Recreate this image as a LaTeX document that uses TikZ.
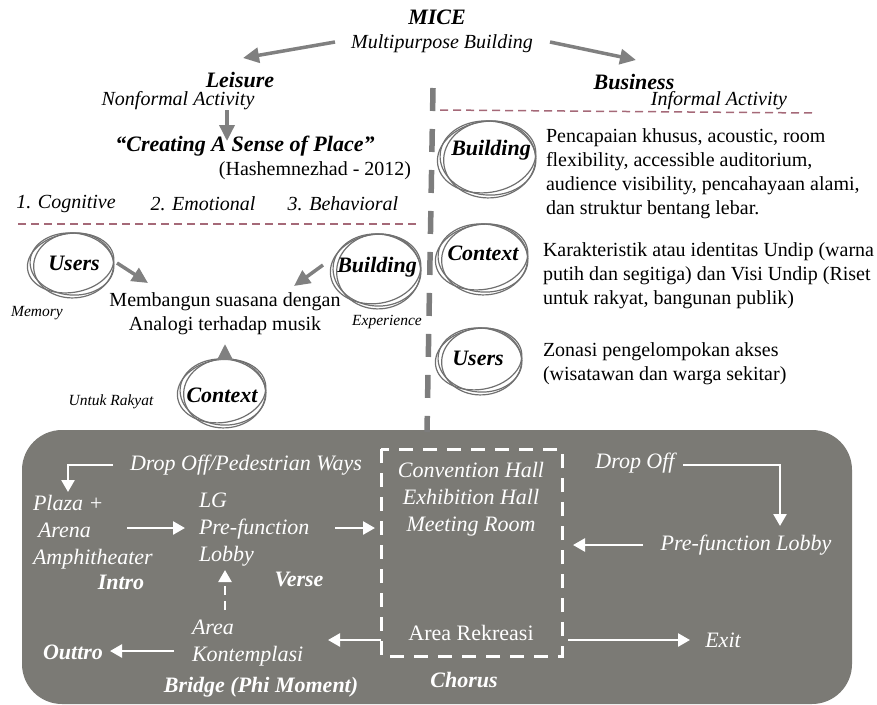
\documentclass[tikz,border=0pt]{standalone}
\usepackage{fontspec}
\setmainfont{Liberation Serif}
\usetikzlibrary{arrows.meta,calc}
\definecolor{arrgray}{RGB}{128,128,128}
\definecolor{ringgray}{RGB}{112,112,112}
\definecolor{panelgray}{RGB}{123,122,117}
\definecolor{rosy}{RGB}{165,105,120}
\definecolor{dashgray}{RGB}{125,125,125}
\newcommand\threering[3]{%
  \foreach \ang/\dx/\dy/\drx/\dry in {-5/0/0/0/0,4/1.5/-1.5/-2/1.5,9/-1.2/1.2/1.5/-1.5}{%
    \pgfmathsetmacro\rxx{#2+\drx}\pgfmathsetmacro\ryy{#3+\dry}%
    \draw[ringline, rotate around={\ang:#1}] ($#1+(\dx,\dy)$) ellipse [x radius=\rxx, y radius=\ryy];%
  }}
\begin{document}
\begin{tikzpicture}[x=1pt,y=1pt,
 every node/.style={inner sep=0pt, outer sep=0pt},
 tr/.style={font=\fontsize{20}{24}\selectfont},
 ti/.style={font=\fontsize{20}{24}\selectfont\itshape},
 tbi/.style={font=\fontsize{22}{26}\selectfont\bfseries\itshape},
 tsmall/.style={font=\fontsize{15.5}{18}\selectfont\itshape},
 wi/.style={text=white,font=\fontsize{22}{27}\selectfont\itshape},
 wbi/.style={text=white,font=\fontsize{22}{27}\selectfont\bfseries\itshape},
 wr/.style={text=white,font=\fontsize{22}{27}\selectfont},
 garrow/.style={draw=arrgray, line width=3.5pt, -{Triangle[length=16pt,width=15pt]}},
 warrow/.style={draw=white, line width=2.5pt, -{Triangle[length=12pt,width=13pt]}},
 ringline/.style={draw=ringgray, line width=1.2pt},
]
\useasboundingbox (0,0) rectangle (877,-704);

% bottom panel
\fill[panelgray, rounded corners=40pt] (22,-430) rectangle (852,-704);

% vertical gray dashed divider
\coordinate (vtop) at (433,-88);
\coordinate (vbot) at (427,-432);
\draw[dashgray, line width=5.5pt, dash pattern=on 23pt off 18pt] (vtop) -- (vbot);

% top texts
\node[tbi] (mice) at (437,-17) {MICE};
\node[ti] (mpb) at (442,-44) {Multipurpose Building};
\node[tbi, text depth=0pt] (leis) at (240,-80) {Leisure};
\node[ti] (nonf) at (178,-101) {Nonformal Activity};
\node[tbi] (csp) at (245,-146) {“Creating A Sense of Place”};
\node[tr] (hash) at (315,-171) {(Hashemnezhad - 2012)};
\node[ti] (cog) at (66,-204) {1. Cognitive};
\node[ti] (emo) at (203,-204) {2. Emotional};
\node[ti] (beh) at (343,-204) {3. Behavioral};
\node[tbi, text depth=0pt] (bus) at (634,-82) {Business};
\node[ti] (inf) at (719,-101) {Informal Activity};

% pink dashed lines
\coordinate (pl1) at (18,-224);
\coordinate (pl2) at (420,-224);
\coordinate (pr1) at (440,-110);
\coordinate (pr2) at (813,-113);
\draw[rosy, line width=1.5pt, dash pattern=on 8pt off 5pt] (pl1) -- (pl2);
\draw[rosy, line width=1.5pt, dash pattern=on 8pt off 5pt] (pr1) -- (pr2);

% MICE arrows
\coordinate (ma1) at (335,-42);
\coordinate (ma2) at (243,-58);
\coordinate (mb1) at (550,-42);
\coordinate (mb2) at (636,-60);
\draw[garrow] (ma1) -- (ma2);
\draw[garrow] (mb1) -- (mb2);
\coordinate (la1) at (227,-110);
\coordinate (la2) at (227,-141);
\draw[garrow] (la1) -- (la2);

% left rings
\threering{(72,-264)}{42}{31}
\node[tbi] (lusers) at (74,-263) {Users};
\threering{(377,-270)}{44}{36}
\node[tbi] (lbuild) at (377,-267) {Building};
\threering{(223,-392)}{43}{33}
\node[tbi] (lctx) at (222,-395) {Context};

\node[tr, align=center] (memb) at (225,-314) {Membangun suasana dengan\\Analogi terhadap musik};
\node[tsmall] (memo) at (37,-313) {Memory};
\node[tsmall] (expe) at (387,-322) {Experience};
\node[tsmall] (untuk) at (111,-402) {Untuk Rakyat};

\coordinate (ua1) at (117,-263);
\coordinate (ua2) at (148,-283);
\draw[garrow] (ua1) -- (ua2);
\coordinate (ba1) at (323,-265);
\coordinate (ba2) at (294,-286);
\draw[garrow] (ba1) -- (ba2);
\coordinate (ca1) at (225,-360);
\coordinate (ca2) at (225,-344);
\draw[garrow] (ca1) -- (ca2);

% right rings
\threering{(488,-158)}{48}{37}
\node[tbi] (rbuild) at (491,-150) {Building};
\threering{(483,-258)}{45}{34}
\node[tbi] (rctx) at (483,-253) {Context};
\threering{(480,-360)}{42}{32}
\node[tbi] (rusers) at (478,-358) {Users};

\node[tr, align=left, anchor=west] (pbuild) at (546,-174) {Pencapaian khusus, acoustic, room\\flexibility, accessible auditorium,\\audience visibility, pencahayaan alami,\\dan struktur bentang lebar.};
\node[tr, align=left, anchor=west] (pctx) at (543,-276) {Karakteristik atau identitas Undip (warna\\putih dan segitiga) dan Visi Undip (Riset\\untuk rakyat, bangunan publik)};
\node[tr, align=left, anchor=west] (pusers) at (543,-364) {Zonasi pengelompokan akses\\(wisatawan dan warga sekitar)};

% ===== bottom panel content =====
\draw[white, line width=3pt, dash pattern=on 14pt off 10pt] (381,-449) rectangle (562,-656);
\coordinate (boxL) at (381,-640);

\node[wi] (dropped) at (246,-465) {Drop Off/Pedestrian Ways};
\node[wi, align=left, anchor=west] (plaza) at (33,-532) {Plaza +\\\hspace{5pt}Arena\\Amphitheater};
\node[wbi] (intro) at (121,-582) {Intro};
\node[wi, align=left, anchor=west] (lg) at (199,-530) {LG\\Pre-function\\Lobby};
\node[wbi] (verse) at (299,-579) {Verse};
\node[wi, align=left, anchor=west] (area) at (192,-643) {Area\\Kontemplasi};
\node[wbi] (outtro) at (73,-652) {Outtro};
\node[wbi] (bridge) at (261,-687) {Bridge (Phi Moment)};
\node[wi, align=center] (halls) at (471,-499) {Convention Hall\\Exhibition Hall\\Meeting Room};
\node[wr] (rekre) at (471,-633) {Area Rekreasi};
\node[wbi] (chorus) at (464,-680) {Chorus};
\node[wi] (drop2) at (635,-463) {Drop Off};
\node[wi] (pfl) at (746,-545) {Pre-function Lobby};
\node[wi] (exit) at (723,-640) {Exit};

% white arrows
\coordinate (d1) at (113,-465);
\coordinate (d2) at (68,-492);
\draw[warrow] (d1) -| (d2);
\coordinate (pa1) at (127,-528);
\coordinate (pa2) at (185,-528);
\draw[warrow] (pa1) -- (pa2);
\coordinate (lga1) at (335,-528);
\coordinate (lga2) at (375,-528);
\draw[warrow] (lga1) -- (lga2);
\coordinate (ka1) at (225,-610);
\coordinate (ka2) at (225,-570);
\draw[warrow, dash pattern=on 9pt off 6pt] (ka1) -- (ka2);
\coordinate (oa1) at (174,-651);
\coordinate (oa2) at (110,-651);
\draw[warrow] (oa1) -- (oa2);
\coordinate (ra2) at (328,-640);
\draw[warrow] (boxL) -- (ra2);
\coordinate (dr1) at (683,-465);
\coordinate (dr2) at (780,-526);
\draw[warrow] (dr1) -| (dr2);
\coordinate (pf1) at (643,-545);
\coordinate (pf2) at (573,-545);
\draw[warrow] (pf1) -- (pf2);
\coordinate (ex1) at (568,-640);
\coordinate (ex2) at (690,-640);
\draw[warrow] (ex1) -- (ex2);
\end{tikzpicture}
\end{document}
